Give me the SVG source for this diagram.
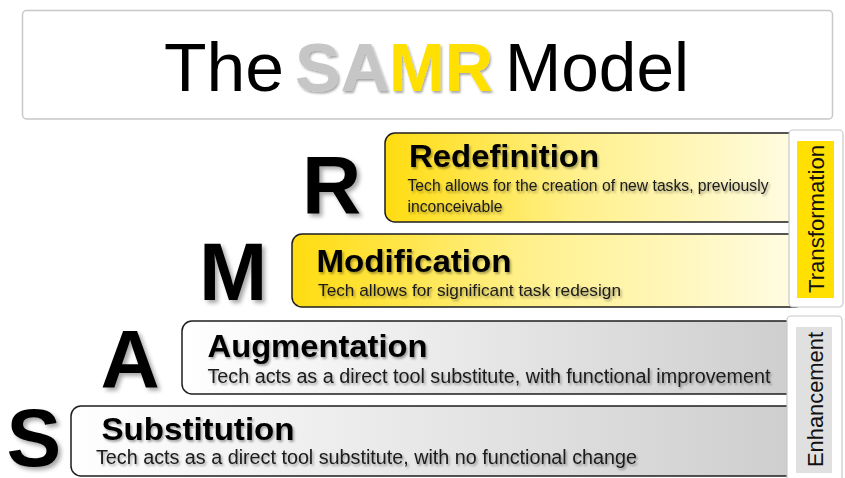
<svg xmlns="http://www.w3.org/2000/svg" width="845" height="478" viewBox="0 0 845 478">
<defs>
<linearGradient id="gy" x1="0" y1="0" x2="1" y2="0">
<stop offset="0" stop-color="#ffdc10"/>
<stop offset="0.45" stop-color="#fff08a"/>
<stop offset="1" stop-color="#fffce6"/>
</linearGradient>
<linearGradient id="gg" x1="0" y1="0" x2="1" y2="0">
<stop offset="0" stop-color="#ffffff"/>
<stop offset="1" stop-color="#cdcdcd"/>
</linearGradient>
<filter id="sh" x="-20%" y="-20%" width="140%" height="150%">
<feDropShadow dx="1.5" dy="2" stdDeviation="1.3" flood-color="#000" flood-opacity="0.35"/>
</filter>
<filter id="shb" x="-20%" y="-20%" width="150%" height="150%">
<feDropShadow dx="3" dy="3" stdDeviation="2.2" flood-color="#000" flood-opacity="0.35"/>
</filter>
</defs>
<style>
text{font-family:"Liberation Sans",Arial,Helvetica,sans-serif}
.box{stroke:#1e1e1e;stroke-width:1.5}
.lab{fill:#fff;stroke:#c8c8c8;stroke-width:1.2}
.big{font-size:82px;font-weight:bold;fill:#000;filter:url(#shb)}
.hd{font-weight:bold;fill:#000;filter:url(#sh);font-size:32px}
.sub{fill:#1a1a1a;filter:url(#sh)}
.side{font-size:22px;fill:#111;text-anchor:middle}
</style>
<rect width="845" height="478" fill="#fff"/>

<g id="title">
<rect x="22.5" y="10.5" width="810" height="108.5" rx="4" fill="#fff" stroke="#c8c8c8" stroke-width="1.5"/>
<text x="164" y="90.5" font-size="68" fill="#000" textLength="120" lengthAdjust="spacingAndGlyphs">The</text>
<text x="295" y="90.5" font-size="68" font-weight="bold" fill="#c6c6c6" filter="url(#sh)" textLength="95" lengthAdjust="spacingAndGlyphs">SA</text>
<text x="389" y="90.5" font-size="68" font-weight="bold" fill="#ffe000" filter="url(#sh)" textLength="104" lengthAdjust="spacingAndGlyphs">MR</text>
<text x="505" y="90.5" font-size="68" fill="#000" textLength="184" lengthAdjust="spacingAndGlyphs">Model</text>
</g>

<g id="redefinition">
<rect class="box" x="385" y="133" width="420" height="89" rx="10" fill="url(#gy)"/>
<text class="big" x="302" y="212.7">R</text>
<text class="hd" x="409" y="166.7" textLength="190" lengthAdjust="spacingAndGlyphs">Redefinition</text>
<text class="sub" x="407.5" y="191" font-size="15.6" textLength="361" lengthAdjust="spacingAndGlyphs">Tech allows for the creation of new tasks, previously</text>
<text class="sub" x="407.5" y="211.7" font-size="15.6" textLength="95" lengthAdjust="spacingAndGlyphs">inconceivable</text>
</g>

<g id="modification">
<rect class="box" x="292" y="234" width="513" height="73" rx="10" fill="url(#gy)"/>
<text class="big" x="199" y="299.5">M</text>
<text class="hd" x="316.5" y="271.7" textLength="195" lengthAdjust="spacingAndGlyphs">Modification</text>
<text class="sub" x="318" y="296" font-size="17" textLength="303" lengthAdjust="spacingAndGlyphs">Tech allows for significant task redesign</text>
</g>

<g id="augmentation">
<rect class="box" x="182" y="321" width="623" height="73" rx="10" fill="url(#gg)"/>
<text class="big" x="100.5" y="386.7">A</text>
<text class="hd" x="207.5" y="357" textLength="220" lengthAdjust="spacingAndGlyphs">Augmentation</text>
<text class="sub" x="207.5" y="383" font-size="19.5" textLength="563" lengthAdjust="spacingAndGlyphs">Tech acts as a direct tool substitute, with functional improvement</text>
</g>

<g id="substitution">
<rect class="box" x="71" y="406" width="734" height="70" rx="10" fill="url(#gg)"/>
<text class="big" x="6.5" y="465.5">S</text>
<text class="hd" x="101.5" y="440" textLength="193" lengthAdjust="spacingAndGlyphs">Substitution</text>
<text class="sub" x="96" y="464" font-size="19.5" textLength="541" lengthAdjust="spacingAndGlyphs">Tech acts as a direct tool substitute, with no functional change</text>
</g>

<g id="transformation">
<rect class="lab" x="789" y="130" width="54" height="177" rx="4"/>
<rect x="797" y="141" width="37" height="157" fill="#ffe000"/>
<text class="side" transform="translate(824,219) rotate(-90)" textLength="148" lengthAdjust="spacingAndGlyphs">Transformation</text>
</g>

<g id="enhancement">
<rect class="lab" x="787" y="316" width="55" height="170" rx="4"/>
<rect x="796" y="327" width="36" height="146" fill="#e0e0e0"/>
<text class="side" transform="translate(823,399.5) rotate(-90)" textLength="135" lengthAdjust="spacingAndGlyphs">Enhancement</text>
</g>

<g id="connectors"/>
</svg>
